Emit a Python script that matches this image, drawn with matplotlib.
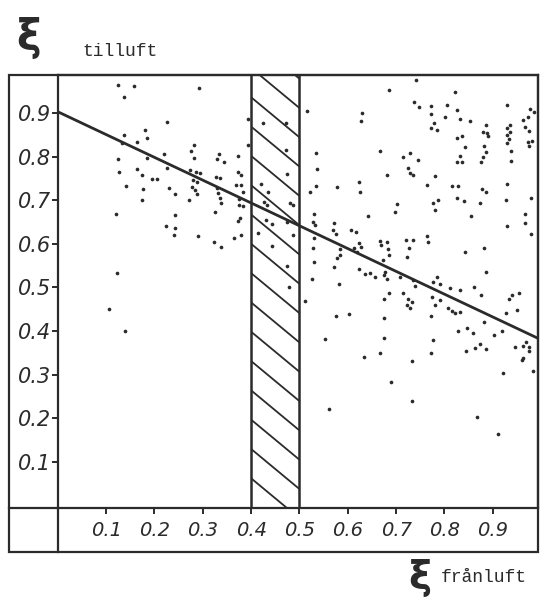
import numpy as np
import matplotlib
matplotlib.use("Agg")
import matplotlib.pyplot as plt
from matplotlib.patches import Rectangle
from matplotlib.lines import Line2D

# ──────────────────────────────────────────────────────────────
# Data
# ──────────────────────────────────────────────────────────────
x_franluft = [
    0.125, 0.158, 0.137, 0.227, 0.180, 0.137, 0.185, 0.134, 0.165, 0.220,
    0.125, 0.185, 0.227, 0.126, 0.165, 0.175, 0.195, 0.205, 0.141, 0.176,
    0.230, 0.242, 0.174, 0.121, 0.242, 0.225, 0.242, 0.241, 0.123, 0.106,
    0.139,
    0.292, 0.394, 0.394, 0.282, 0.275, 0.281, 0.334, 0.330, 0.343, 0.372,
    0.274, 0.286, 0.294, 0.279, 0.288, 0.327, 0.336, 0.372, 0.379, 0.369,
    0.379, 0.278, 0.285, 0.289, 0.329, 0.384, 0.332, 0.336, 0.337, 0.376,
    0.376, 0.384, 0.272, 0.326, 0.377, 0.374, 0.291, 0.379, 0.364, 0.324,
    0.337,
    0.425, 0.472, 0.472, 0.475, 0.421, 0.435, 0.427, 0.434, 0.481, 0.487,
    0.431, 0.443, 0.474, 0.486, 0.414, 0.443, 0.475, 0.478,
    0.686, 0.741, 0.737, 0.747, 0.516, 0.630, 0.627, 0.534, 0.667, 0.715,
    0.729, 0.746, 0.725, 0.729, 0.736, 0.536, 0.681, 0.534, 0.577, 0.623,
    0.625, 0.521, 0.701, 0.697, 0.530, 0.642, 0.528, 0.532, 0.572, 0.570,
    0.576, 0.606, 0.617, 0.530, 0.624, 0.627, 0.613, 0.667, 0.668, 0.681,
    0.683, 0.721, 0.734, 0.727, 0.528, 0.583, 0.584, 0.578, 0.723, 0.620,
    0.685, 0.672, 0.530, 0.572, 0.624, 0.636, 0.646, 0.656, 0.677, 0.674,
    0.682, 0.708, 0.736, 0.526, 0.581, 0.739,
    0.822, 0.772, 0.805, 0.827, 0.930, 0.977, 0.985, 0.772, 0.802, 0.832,
    0.853, 0.972, 0.962, 0.779, 0.772, 0.784, 0.886, 0.936, 0.929, 0.879,
    0.888, 0.891, 0.967, 0.975, 0.936, 0.930, 0.934, 0.930, 0.972, 0.981,
    0.976, 0.836, 0.827, 0.843, 0.881, 0.886, 0.879, 0.937, 0.937, 0.832,
    0.827, 0.836, 0.875, 0.781, 0.765, 0.815, 0.829, 0.930, 0.878, 0.885,
    0.827, 0.841, 0.874, 0.927, 0.979, 0.787, 0.777, 0.780, 0.854, 0.967,
    0.967, 0.930, 0.979, 0.763, 0.766, 0.881, 0.843, 0.885, 0.785, 0.777,
    0.790, 0.812, 0.832, 0.861,
    0.512, 0.685, 0.675, 0.715, 0.725, 0.732, 0.722, 0.729, 0.575, 0.603,
    0.675, 0.552, 0.674, 0.667, 0.634, 0.733, 0.689, 0.732, 0.562,
    0.774, 0.790, 0.781, 0.876, 0.934, 0.940, 0.955, 0.808, 0.815, 0.822,
    0.832, 0.772, 0.927, 0.950, 0.882, 0.846, 0.828, 0.860, 0.903, 0.919,
    0.776, 0.874, 0.885, 0.863, 0.845, 0.772, 0.946, 0.962, 0.969, 0.974,
    0.974, 0.960, 0.963, 0.921, 0.984, 0.867, 0.910,
]
y_tilluft = [
    0.965, 0.962, 0.937, 0.880, 0.861, 0.849, 0.844, 0.832, 0.835, 0.806,
    0.796, 0.798, 0.775, 0.765, 0.772, 0.758, 0.750, 0.750, 0.732, 0.725,
    0.728, 0.715, 0.701, 0.668, 0.666, 0.642, 0.636, 0.620, 0.534, 0.450,
    0.399,
    0.957, 0.887, 0.827, 0.826, 0.813, 0.798, 0.806, 0.794, 0.787, 0.802,
    0.770, 0.764, 0.763, 0.747, 0.743, 0.754, 0.751, 0.766, 0.758, 0.735,
    0.735, 0.731, 0.724, 0.714, 0.728, 0.720, 0.716, 0.705, 0.695, 0.703,
    0.689, 0.688, 0.700, 0.674, 0.659, 0.653, 0.617, 0.620, 0.614, 0.604,
    0.592,
    0.878, 0.878, 0.816, 0.760, 0.737, 0.720, 0.697, 0.689, 0.693, 0.689,
    0.655, 0.646, 0.651, 0.620, 0.625, 0.596, 0.550, 0.501,
    0.953, 0.976, 0.925, 0.915, 0.905, 0.900, 0.882, 0.808, 0.813, 0.800,
    0.809, 0.793, 0.774, 0.762, 0.758, 0.772, 0.758, 0.734, 0.731, 0.741,
    0.718, 0.718, 0.691, 0.674, 0.668, 0.663, 0.651, 0.643, 0.649, 0.633,
    0.623, 0.633, 0.628, 0.614, 0.602, 0.593, 0.590, 0.607, 0.597, 0.605,
    0.588, 0.609, 0.609, 0.591, 0.590, 0.588, 0.574, 0.567, 0.571, 0.582,
    0.574, 0.563, 0.558, 0.548, 0.542, 0.530, 0.534, 0.525, 0.535, 0.529,
    0.519, 0.525, 0.517, 0.519, 0.507, 0.504,
    0.949, 0.917, 0.920, 0.908, 0.919, 0.910, 0.902, 0.898, 0.891, 0.887,
    0.882, 0.892, 0.884, 0.877, 0.867, 0.861, 0.873, 0.873, 0.865, 0.858,
    0.854, 0.848, 0.869, 0.859, 0.856, 0.850, 0.841, 0.831, 0.835, 0.836,
    0.825, 0.848, 0.842, 0.823, 0.825, 0.812, 0.800, 0.814, 0.790, 0.802,
    0.787, 0.787, 0.787, 0.757, 0.735, 0.734, 0.733, 0.737, 0.726, 0.718,
    0.705, 0.698, 0.694, 0.700, 0.706, 0.700, 0.695, 0.678, 0.665, 0.668,
    0.649, 0.642, 0.622, 0.617, 0.605, 0.591, 0.581, 0.536, 0.525, 0.513,
    0.508, 0.498, 0.494, 0.502,
    0.470, 0.487, 0.473, 0.488, 0.473, 0.467, 0.460, 0.452, 0.434, 0.439,
    0.429, 0.382, 0.383, 0.350, 0.341, 0.332, 0.283, 0.239, 0.222,
    0.477, 0.471, 0.459, 0.482, 0.474, 0.482, 0.487, 0.452, 0.447, 0.441,
    0.444, 0.434, 0.441, 0.448, 0.421, 0.408, 0.399, 0.395, 0.391, 0.399,
    0.379, 0.370, 0.358, 0.360, 0.354, 0.349, 0.364, 0.366, 0.375, 0.363,
    0.355, 0.333, 0.337, 0.303, 0.307, 0.202, 0.163,
]

# fitted line, endpoints
fit_x = [0.0, 0.994]
fit_y = [0.9035, 0.383]

# hatched band
band = (0.4, 0.5)

ticks = [0.1, 0.2, 0.3, 0.4, 0.5, 0.6, 0.7, 0.8, 0.9]
tick_labels = ["0.1", "0.2", "0.3", "0.4", "0.5", "0.6", "0.7", "0.8", "0.9"]

INK = "#2b2b2b"
YLIM = (-0.0053, 0.9878)

# ──────────────────────────────────────────────────────────────
# Plot
# ──────────────────────────────────────────────────────────────
fig = plt.figure(figsize=(5.4, 5.98), dpi=100)
ax = fig.add_axes([57.7 / 540, 90.5 / 598, 480.3 / 540, 432.5 / 598])
ax.set_xlim(0, 0.9936)
ax.set_ylim(*YLIM)

for s in ax.spines.values():
    s.set_linewidth(1.6)
    s.set_color(INK)

# hatched band
ax.axvline(band[0], color=INK, lw=1.8)
ax.axvline(band[1], color=INK, lw=1.8)
clip = Rectangle((band[0], YLIM[0]), band[1] - band[0], YLIM[1] - YLIM[0],
                 transform=ax.transData)
for y0 in np.arange(-0.14, 1.1, 0.0673):
    ln, = ax.plot([band[0], band[1]], [y0, y0 - 0.092], color=INK, lw=1.3,
                  solid_capstyle="butt")
    ln.set_clip_path(clip)

ax.scatter(x_franluft, y_tilluft, s=7, color=INK, linewidths=0, zorder=3)
ax.plot(fit_x, fit_y, color=INK, lw=2.0, zorder=4)

ax.set_xticks(ticks)
ax.set_xticklabels(tick_labels)
ax.set_yticks(ticks)
ax.set_yticklabels(tick_labels)
ax.tick_params(axis="both", direction="out", length=4, width=1.4, color=INK)
ax.tick_params(axis="x", pad=6)
ax.tick_params(axis="y", pad=1)
for lab in ax.get_xticklabels():
    lab.set_fontsize(14)
    lab.set_fontstyle("italic")
    lab.set_color(INK)
for lab in ax.get_yticklabels():
    lab.set_fontsize(15)
    lab.set_fontstyle("italic")
    lab.set_color(INK)

# outer frame around the chart
fig.add_artist(Rectangle((9 / 540, 46 / 598), 529 / 540, 477 / 598,
                         transform=fig.transFigure, fill=False,
                         lw=1.6, edgecolor=INK))
fig.add_artist(Line2D([9 / 540, 57.7 / 540], [90.5 / 598, 90.5 / 598],
                      transform=fig.transFigure, lw=1.6, color=INK))
fig.add_artist(Line2D([57.7 / 540, 57.7 / 540], [46 / 598, 90.5 / 598],
                      transform=fig.transFigure, lw=1.6, color=INK))

# axis names
fig.text(28 / 540, 1 - 38 / 598, "ξ", fontsize=30, color=INK,
         ha="center", va="center", fontweight="bold")
fig.text(82 / 540, 1 - 52 / 598, "tilluft", fontsize=13, color=INK,
         family="Liberation Mono", ha="left", va="center")
fig.text(420 / 540, 1 - 578 / 598, "ξ", fontsize=28, color=INK,
         ha="center", va="center", fontweight="bold")
fig.text(441 / 540, 1 - 578 / 598, "frånluft", fontsize=13, color=INK,
         family="Liberation Mono", ha="left", va="center")

fig.savefig("out.png", dpi=100, facecolor="white")
plt.close(fig)
